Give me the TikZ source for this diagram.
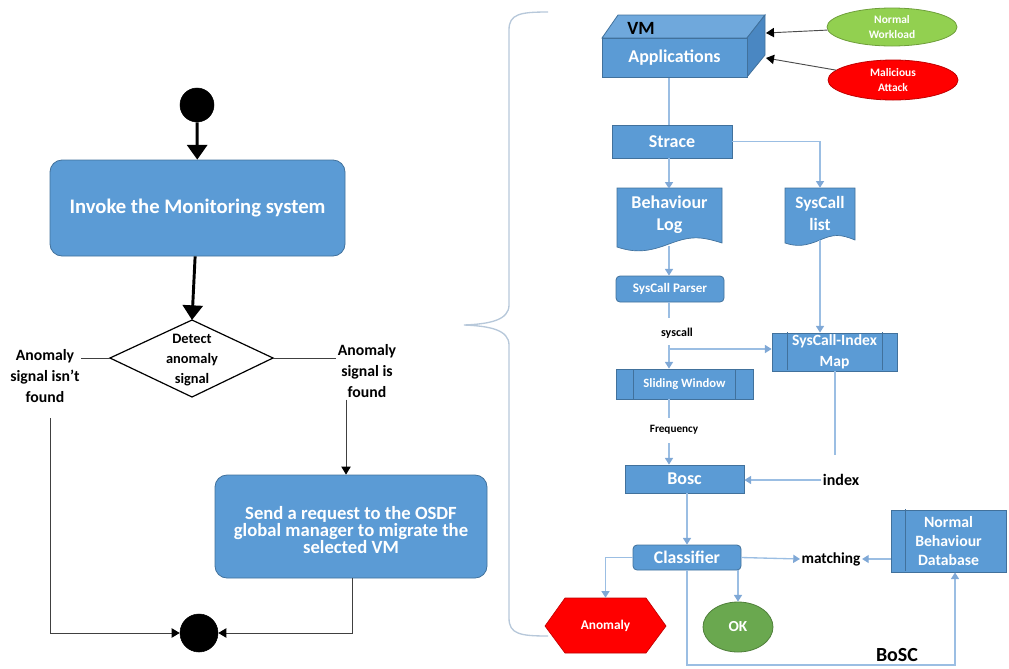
\documentclass[tikz,border=0pt]{standalone}
\usepackage{fontspec}
\setmainfont{Carlito}
\usetikzlibrary{arrows.meta,calc,shapes.geometric}

\definecolor{boxblue}{HTML}{5B9BD5}
\definecolor{boxedge}{HTML}{41719C}
\definecolor{cubetop}{HTML}{6FA8DC}
\definecolor{cubeside}{HTML}{4A87C2}
\definecolor{flow}{HTML}{9BBEE3}
\definecolor{flowtip}{HTML}{7FA8D6}
\definecolor{braceclr}{HTML}{B7C8DA}
\definecolor{wlgreen}{HTML}{92D050}
\definecolor{wledge}{HTML}{6E9E3A}
\definecolor{okgreen}{HTML}{6AA84F}
\definecolor{okedge}{HTML}{4F7F3A}
\definecolor{attred}{HTML}{FF0000}
\definecolor{attedge}{HTML}{C00000}

\newdimen\pxl \pxl=0.75pt

\tikzset{
  blk/.style={fill=boxblue, draw=boxedge, line width=0.6pt, text=white,
    inner sep=0pt, align=center},
  actbox/.style={blk, rounded corners=9pt},
  dot/.style={circle, fill=black, draw=black, inner sep=0pt},
  lbl/.style={inner sep=1pt, align=center, text=black},
  bigarrow/.style={line width=2.2pt, -{Triangle[width=15pt,length=11pt]}},
  thinarrow/.style={draw=black!75, line width=0.7pt, -{Triangle[width=7pt,length=6pt,color=black]}},
  plainline/.style={draw=black!75, line width=0.7pt},
  flowline/.style={draw=flow, line width=1pt},
  flowarr/.style={flowline, -{Triangle[width=6pt,length=5pt,color=flowtip]}},
  f/.style={font=\fontsize{#1}{#1}\selectfont\bfseries},
}

\begin{document}
\begin{tikzpicture}[x=0.75pt,y=-0.75pt]
\useasboundingbox (0,0) rectangle (1009,668);

% vertical guide lines for the connectors
\coordinate (xa) at (669,0);
\coordinate (xb) at (346,0);
\coordinate (xc) at (352,0);
\coordinate (xd) at (687,0);
\coordinate (xe) at (955,0);
\coordinate (xf) at (835,0);

% ---------------- activity flow (left) ----------------
\node[dot, minimum size=34\pxl] (start) at (197,105) {};
\node[actbox, minimum width=295\pxl, minimum height=96\pxl, f=15.5] (invoke) at (197.5,208) {Invoke the Monitoring system};

% decision diamond
\coordinate (detN) at (192,320);
\coordinate (detS) at (192,397);
\coordinate (detW) at (110,358);
\coordinate (detE) at (273,358);
\draw[line width=0.9pt] (detW) -- (detN) -- (detE) -- (detS) -- cycle;
\node[lbl, font=\fontsize{10.8}{14.8}\selectfont\bfseries] (detect) at (192,360) {Detect\\anomaly\\signal};

\node[lbl, font=\fontsize{11.8}{16}\selectfont\bfseries] (notfound) at (45,376) {Anomaly\\signal isn’t\\found};
\node[lbl, font=\fontsize{11.8}{16}\selectfont\bfseries] (found) at (367,371) {Anomaly\\signal is\\found};

\node[actbox, minimum width=272\pxl, minimum height=103\pxl, font=\fontsize{14}{13}\selectfont\bfseries] (send) at (351,526.5) {};
\node[lbl, text=white, font=\fontsize{14}{13}\selectfont\bfseries] (sendtxt) at (351,530) {Send a request to the OSDF\\global manager to migrate the\\selected VM};

\node[dot, minimum size=38\pxl] (end) at (199,633) {};

\draw[bigarrow] (start) -- (invoke);
\draw[bigarrow] (invoke) -- (detN);
\draw[plainline] (detW) -- (notfound.east |- detW);
\draw[plainline] (detE) -- (found.west |- detE);
\draw[thinarrow] (found.south -| xb) -- (send.north -| xb);
\coordinate (nfdrop) at (50,418);
\draw[thinarrow] (nfdrop) |- (end.west);
\draw[thinarrow] (send.south -| xc) |- (end.east);

% ---------------- brace ----------------
\draw[braceclr, line width=1pt]
  (548,12) .. controls (520,12) and (509,14) .. (509,30)
  -- (509,305) .. controls (509,320) and (490,324) .. (464,325)
  .. controls (490,326) and (509,330) .. (509,345)
  -- (509,618) .. controls (509,634) and (520,636) .. (548,636);

% ---------------- BoSC pipeline (right) ----------------
% VM cube
\fill[cubetop, draw=boxedge, line width=0.6pt] (602,38) -- (618,15) -- (765,15) -- (747,38) -- cycle;
\fill[cubeside, draw=boxedge, line width=0.6pt] (747,38) -- (765,15) -- (765,55) -- (747,77) -- cycle;
\node[blk, minimum width=145\pxl, minimum height=39\pxl, f=13.5] (apps) at (674.5,58) {Applications};
\node[lbl, f=14] (vm) at (641,28) {VM};
\coordinate (vmin1) at (766,33);
\coordinate (vmin2) at (766,58);

\node[ellipse, fill=wlgreen, draw=wledge, line width=0.6pt, minimum width=130\pxl, minimum height=38\pxl, inner sep=0pt, text=white, align=center, font=\fontsize{8.6}{11}\selectfont\bfseries] (normal) at (892,27) {Normal\\Workload};
\node[ellipse, fill=attred, draw=attedge, line width=0.6pt, minimum width=130\pxl, minimum height=40\pxl, inner sep=0pt, text=white, align=center, font=\fontsize{8.6}{11}\selectfont\bfseries] (attack) at (893,80) {Malicious\\Attack};
\draw[draw=black!70, line width=0.7pt, -{Triangle[width=7pt,length=6pt,color=black]}] (normal) -- (vmin1);
\draw[draw=black!70, line width=0.7pt, -{Triangle[width=7pt,length=6pt,color=black]}] (attack) -- (vmin2);

\node[blk, minimum width=120\pxl, minimum height=33\pxl, f=13.5] (strace) at (672,141.5) {Strace};

% documents
\fill[boxblue, draw=boxedge, line width=0.5pt] (617,188) -- (722,188) -- (722,243)
  .. controls (700,236) and (690,236) .. (669,244) .. controls (648,252) and (635,253) .. (617,247) -- cycle;
\node[lbl, text=white, minimum width=105\pxl, minimum height=52\pxl, font=\fontsize{13.5}{16.5}\selectfont\bfseries] (blog) at (669.5,215) {Behaviour\\Log};
\fill[boxblue, draw=boxedge, line width=0.5pt] (785,188) -- (855,188) -- (855,240)
  .. controls (840,234) and (834,234) .. (820,240) .. controls (806,246) and (797,247) .. (785,243) -- cycle;
\node[lbl, text=white, minimum width=70\pxl, minimum height=50\pxl, font=\fontsize{13}{16.5}\selectfont\bfseries] (slist) at (820,213) {SysCall\\list};
\coordinate (blogbot) at (669,246);
\coordinate (slistbot) at (820,240);

\node[actbox, rounded corners=3pt, minimum width=108\pxl, minimum height=26\pxl, f=9.8] (parser) at (670,289) {SysCall Parser};

\node[lbl, f=9] (syscall) at (677,333) {syscall};
\coordinate (junc) at (669,349);
\coordinate (gap1) at (669,318);
\coordinate (gap2) at (669,345);

% predefined-process boxes
\node[blk, minimum width=125\pxl, minimum height=38\pxl, font=\fontsize{11.7}{15.5}\selectfont\bfseries] (map) at (834.5,352) {SysCall-Index\\Map};
\draw[boxedge, line width=0.5pt] (787,332) -- (787,370) (882,332) -- (882,370);
\node[blk, minimum width=137\pxl, minimum height=30\pxl, f=9.5] (sliding) at (684.5,384) {Sliding Window};
\draw[boxedge, line width=0.5pt] (633,369) -- (633,399) (735,369) -- (735,399);

\node[lbl, f=8.4] (freq) at (674,430) {Frequency};
\coordinate (gap3) at (669,418);
\coordinate (gap4) at (669,443);
\node[blk, minimum width=119\pxl, minimum height=28\pxl, f=13.5] (bosc) at (684.5,479) {Bosc};
\node[lbl, f=12] (index) at (841,480) {index};
\coordinate (mapdrop) at (835,455);

\node[actbox, rounded corners=3pt, minimum width=108\pxl, minimum height=25\pxl, f=13.3] (classifier) at (687,557.5) {Classifier};
\node[lbl, f=11.5] (matching) at (831,559) {matching};
\node[blk, minimum width=115\pxl, minimum height=62\pxl, font=\fontsize{11.8}{14}\selectfont\bfseries] (db) at (948.5,541) {Normal\\Behaviour\\Database};
\draw[boxedge, line width=0.5pt] (905,509) -- (905,571);
\coordinate (loopcorner) at (955,665);

% outcome shapes
\fill[attred, draw=attedge, line width=0.5pt] (545,626) -- (565,598) -- (646,598) -- (666,626) -- (646,653) -- (565,653) -- cycle;
\node[lbl, text=white, minimum width=100\pxl, minimum height=55\pxl, f=10] (anomaly) at (605.5,625.5) {Anomaly};
\node[ellipse, fill=okgreen, draw=okedge, line width=0.6pt, minimum width=70\pxl, minimum height=50\pxl, inner sep=0pt, text=white, f=11.5] (ok) at (738,627) {OK};

\node[lbl, f=15] (boscl) at (897,655) {BoSC};

% pipeline connectors
\draw[flowline] (apps.south -| xa) -- (strace.north -| xa);
\draw[flowarr] (strace.south -| xa) -- (blog.north -| xa);
\draw[flowarr] (strace.east) -| (slist.north);
\draw[flowarr] (blogbot) -- (parser.north -| xa);
\draw[flowline] (parser.south -| xa) -- (gap1);
\draw[flowline] (gap2) -- (junc);
\draw[flowarr] (junc) -- (map.west |- junc);
\draw[flowarr] (junc) -- (sliding.north -| junc);
\draw[flowarr] (slistbot) -- (map.north -| slistbot);
\draw[flowline] (sliding.south -| xa) -- (gap3);
\draw[flowarr] (gap4) -- (bosc.north -| xa);
\draw[flowline] (map.south -| xf) -- (mapdrop);
\draw[flowarr] (index.west) -- (bosc.east |- index.west);
\draw[flowarr] (bosc.south -| xd) -- (classifier.north -| xd);
\draw[flowarr] (classifier.east) -- (matching.west);
\draw[flowarr] (db.west |- matching) -- (matching.east);
\draw[flowarr] (classifier.west) -| (anomaly.north);
\draw[flowarr] (classifier.south -| ok.north) -- (ok.north);
\draw[flowarr] (classifier.south) |- (loopcorner) -- (db.south -| xe);

\end{tikzpicture}
\end{document}
